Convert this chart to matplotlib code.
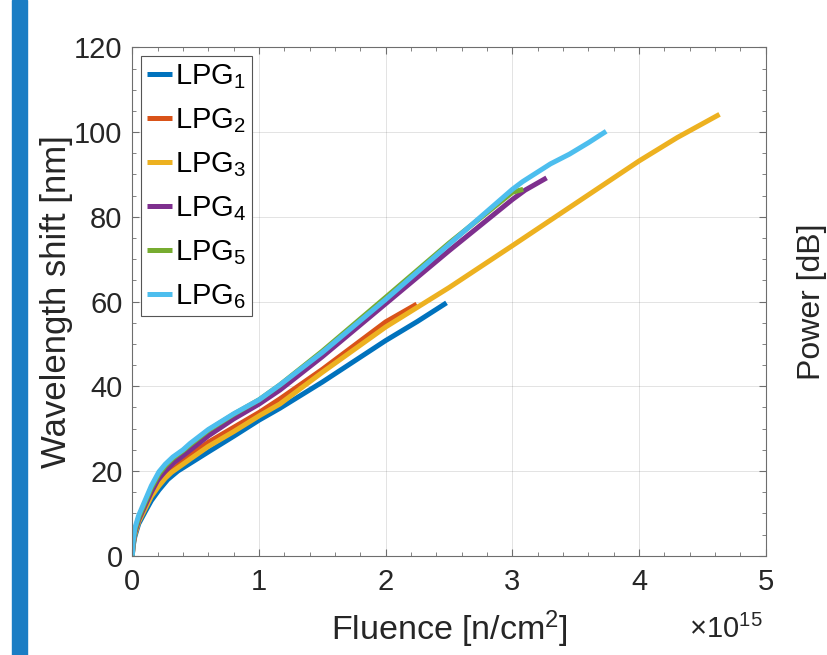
import matplotlib
matplotlib.use("Agg")
import matplotlib.pyplot as plt
from matplotlib.patches import Rectangle
from matplotlib.ticker import MultipleLocator

plt.rcParams["font.family"] = ["Liberation Sans", "DejaVu Sans"]
plt.rcParams["mathtext.default"] = "regular"

# fluence in units of 1e15 n/cm^2, wavelength shift in nm
fl_1 = [0, 0.005, 0.02, 0.05, 0.1, 0.15, 0.21, 0.28, 0.36, 0.456, 0.6, 0.8, 1.0, 1.164, 1.5, 2.0, 2.25, 2.48]
ws_1 = [0, 2.0, 4.5, 7.5, 10.3, 13.0, 15.5, 18.0, 20.0, 21.8, 24.5, 28.2, 32.0, 34.8, 41.0, 50.8, 55.3, 59.7]

fl_2 = [0, 0.005, 0.02, 0.05, 0.1, 0.15, 0.21, 0.26, 0.31, 0.4, 0.456, 0.6, 0.8, 1.0, 1.164, 1.5, 2.0, 2.245]
ws_2 = [0, 2.5, 5.3, 8.2, 11.3, 14.2, 16.8, 18.6, 20.0, 22.4, 23.8, 26.8, 30.3, 33.8, 37.0, 44.0, 55.2, 59.4]

fl_3 = [0, 0.005, 0.02, 0.05, 0.1, 0.15, 0.21, 0.26, 0.31, 0.4, 0.456, 0.6, 0.8, 1.0, 1.164, 1.5, 2.0,
        2.5, 3.0, 3.5, 4.0, 4.3, 4.635]
ws_3 = [0, 2.3, 5.0, 8.0, 11.0, 14.0, 16.5, 18.3, 19.7, 21.6, 22.8, 25.8, 29.3, 33.0, 35.8, 43.3, 54.0,
        63.3, 73.2, 83.2, 93.2, 98.7, 104.2]

fl_4 = [0, 0.005, 0.02, 0.05, 0.1, 0.15, 0.2, 0.26, 0.33, 0.4, 0.456, 0.6, 0.8, 1.0, 1.164, 1.5,
        2.0, 2.5, 3.0, 3.1, 3.27]
ws_4 = [0, 2.5, 5.5, 8.5, 11.8, 15.0, 17.8, 20.0, 22.0, 23.6, 24.9, 28.3, 32.3, 35.8, 39.1, 47.0,
        59.5, 72.0, 84.1, 86.3, 89.2]

fl_5 = [0, 0.005, 0.02, 0.05, 0.1, 0.15, 0.21, 0.26, 0.32, 0.4, 0.456, 0.6, 0.8, 1.0, 1.164, 1.5, 2.0,
        2.5, 3.0, 3.085]
ws_5 = [0, 3.0, 6.0, 9.0, 12.5, 16.0, 19.3, 21.2, 23.0, 24.8, 26.2, 29.6, 33.4, 36.8, 40.3, 48.3, 61.0,
        73.8, 85.8, 86.5]

fl_6 = [0, 0.005, 0.02, 0.05, 0.1, 0.15, 0.21, 0.26, 0.32, 0.4, 0.456, 0.6, 0.8, 1.0, 1.164, 1.5, 2.0,
        2.5, 3.0, 3.08, 3.3, 3.45, 3.6, 3.74]
ws_6 = [0, 3.0, 6.5, 9.5, 13.0, 16.5, 19.8, 21.6, 23.3, 25.0, 26.5, 29.8, 33.5, 36.8, 40.3, 48.0, 60.5,
        73.5, 86.5, 88.3, 92.5, 94.8, 97.5, 100.2]

labels = ["LPG$_1$", "LPG$_2$", "LPG$_3$", "LPG$_4$", "LPG$_5$", "LPG$_6$"]
colors = ["#0072BD", "#D95319", "#EDB120", "#7E2F8E", "#77AC30", "#4DBEEE"]

fig = plt.figure(figsize=(8.27, 6.55), dpi=100)
fig.patches.append(Rectangle((12 / 827, 0), 15 / 827, 1, transform=fig.transFigure,
                             color="#1a7dc4", zorder=0))

ax = fig.add_axes([0.160, 0.1516, 0.766, 0.776])

series = [(fl_1, ws_1), (fl_2, ws_2), (fl_3, ws_3), (fl_4, ws_4), (fl_5, ws_5), (fl_6, ws_6)]
for (x, y), lab, c in zip(series, labels, colors):
    ax.plot(x, y, color=c, lw=3.6, label=lab, solid_capstyle="butt", solid_joinstyle="round")

ax.set_xlim(0, 5)
ax.set_ylim(0, 120)
ax.xaxis.set_major_locator(MultipleLocator(1))
ax.xaxis.set_minor_locator(MultipleLocator(0.2))
ax.yaxis.set_major_locator(MultipleLocator(20))
ax.yaxis.set_minor_locator(MultipleLocator(5))
ax.tick_params(which="both", direction="in", top=True, right=True,
               colors="#6e6e6e", labelcolor="#262626", labelsize=21)
ax.tick_params(which="major", length=5, width=0.8)
ax.tick_params(which="minor", length=3, width=0.6)
ax.tick_params(axis="x", pad=9)
ax.tick_params(axis="y", pad=7)
ax.grid(True, which="major", color="#262626", alpha=0.15, lw=0.6)
for s in ax.spines.values():
    s.set_color("#6e6e6e")
    s.set_linewidth(0.8)

ax.set_xlabel("Fluence [n/cm$^2$]", fontsize=24.5, color="#262626", labelpad=9)
ax.set_ylabel("Wavelength shift [nm]", fontsize=25, color="#262626", labelpad=1)
ax.text(0.995, -0.162, "$\\times$10$^{15}$", transform=ax.transAxes, ha="right",
        va="baseline", fontsize=21, color="#262626")
ax.text(1.0726, 0.5, "Power [dB]", transform=ax.transAxes, rotation=90, ha="center",
        va="center", fontsize=23, color="#262626")

leg = ax.legend(loc="upper left", fontsize=21, handlelength=0.85, handletextpad=0.1,
                labelspacing=0.52, borderaxespad=0.3, borderpad=0.2, fancybox=False,
                framealpha=1, edgecolor="#555555")
leg.get_frame().set_linewidth(0.8)

fig.savefig("out.png", dpi=100, facecolor="white")
